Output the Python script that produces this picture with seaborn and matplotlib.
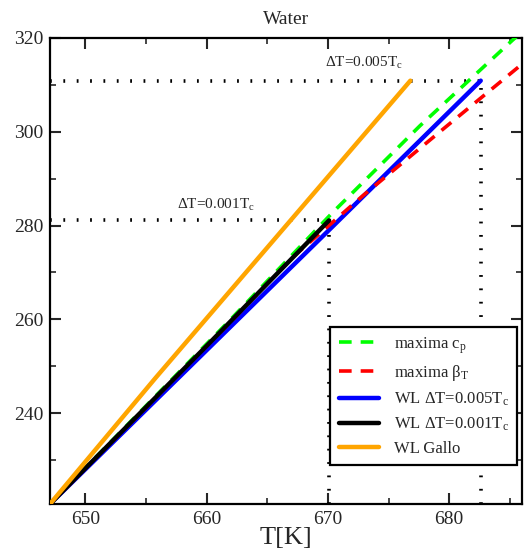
import matplotlib
matplotlib.use("Agg")
import matplotlib.pyplot as plt
import seaborn as sns
import pandas as pd

# Critical point of water
Tc = 647.1
Pc = 220.6

# Maxima loci and Widom lines (T in K, P in bar)
cp_T = [Tc, 655.0, 662.0, 670.4, 677.6, 685.2, 687.0]
cp_P = [Pc, 241.5, 260.0, 282.8, 301.3, 319.5, 323.6]

beta_T = [Tc, 655.0, 662.0, 667.0, 672.9, 679.7, 686.5]
beta_P = [Pc, 241.2, 259.5, 273.0, 286.4, 301.0, 315.5]

wl5_T = [Tc, 670.2, 682.6]
wl5_P = [Pc, 279.3, 310.9]

wl1_T = [Tc, 660.0, 670.1]
wl1_P = [Pc, 254.3, 281.1]

gallo_T = [Tc, 655.8, 676.8]
gallo_P = [Pc, 247.5, 310.9]

# Ends of the two Widom lines, marked by dotted guides
end5 = (682.6, 310.9)
end1 = (670.1, 281.1)

sns.set_theme(style="ticks")
plt.rcParams["font.family"] = ["Liberation Serif", "DejaVu Serif"]
plt.rcParams["mathtext.fontset"] = "stix"

fig = plt.figure(figsize=(5.25, 5.52), dpi=100)
ax = fig.add_axes([50 / 525, 48 / 552, 472 / 525, 466 / 552])

xmin, xmax = Tc, 686.0
ymin, ymax = Pc, 320.0

# dotted guides
dot = dict(color="black", linestyle=(0, (0.5, 3.2)), linewidth=2.6,
           dash_capstyle="butt", zorder=1)
ax.plot([xmin, end5[0]], [end5[1], end5[1]], **dot)
ax.plot([end5[0], end5[0]], [ymin, end5[1]], **dot)
ax.plot([xmin, end1[0]], [end1[1], end1[1]], **dot)
ax.plot([end1[0], end1[0]], [ymin, end1[1]], **dot)

series = [
    (cp_T, cp_P, "#00ff00", "maxima c$_\\mathregular{p}$", (3.5, 2.5), 2.6),
    (beta_T, beta_P, "#ff0000", "maxima $\\mathregular{\\beta_T}$", (3.5, 2.5), 2.6),
    (wl5_T, wl5_P, "#0000ff", "WL $\\mathregular{\\Delta}$T=0.005T$_\\mathregular{c}$", None, 3.2),
    (wl1_T, wl1_P, "#000000", "WL $\\mathregular{\\Delta}$T=0.001T$_\\mathregular{c}$", None, 3.2),
    (gallo_T, gallo_P, "#ffa500", "WL Gallo", None, 3.2),
]
zorders = [3, 3, 2, 4, 5]
for (t, p, c, lab, dash, lw), z in zip(series, zorders):
    df = pd.DataFrame({"T": t, "P": p})
    kw = {}
    if dash is not None:
        kw["dashes"] = dash
    sns.lineplot(data=df, x="T", y="P", ax=ax, color=c, linewidth=lw,
                 label=lab, sort=False, estimator=None, zorder=z, **kw)

ax.set_xlim(xmin, xmax)
ax.set_ylim(ymin, ymax)
ax.set_xticks([650, 660, 670, 680])
ax.set_xticks([655, 665, 675, 685], minor=True)
ax.set_yticks([240, 260, 280, 300, 320])
ax.set_yticks([230, 250, 270, 290, 310], minor=True)
ax.tick_params(which="major", direction="in", length=8, width=1.5,
               top=True, right=True, labelsize=14, pad=5)
ax.tick_params(which="minor", direction="in", length=4, width=1.2,
               top=True, right=True)
for s in ax.spines.values():
    s.set_linewidth(1.6)
    s.set_color("black")

ax.set_xlabel("T[K]", fontsize=19, labelpad=-1)
ax.set_ylabel("")
ax.set_title("Water", fontsize=14, pad=10)

ax.text(669.8, 313.8, "$\\mathregular{\\Delta}$T=0.005T$_\\mathregular{c}$", fontsize=11)
ax.text(657.6, 283.6, "$\\mathregular{\\Delta}$T=0.001T$_\\mathregular{c}$", fontsize=11)

leg = ax.legend(loc="lower right", bbox_to_anchor=(0.989, 0.084), fontsize=12,
                frameon=True, fancybox=False, framealpha=1, edgecolor="black",
                handlelength=2.4, labelspacing=0.45, borderpad=0.5,
                handletextpad=0.9, borderaxespad=0)
leg.get_frame().set_linewidth(1.6)

fig.savefig("out.png", dpi=100)
